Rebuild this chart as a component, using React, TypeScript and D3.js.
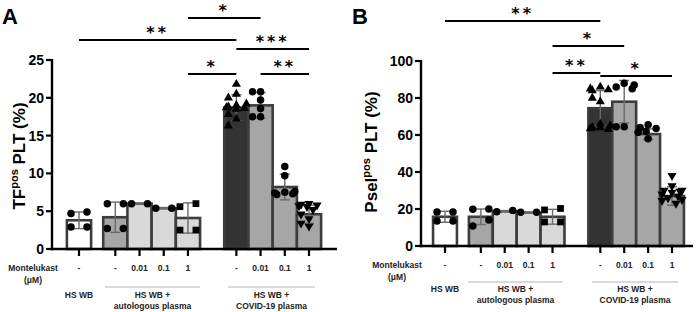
import React from "react";
import * as d3 from "d3";

// ---------- data ----------
const doseLabels = ["-", "-", "0.01", "0.1", "1", "-", "0.01", "0.1", "1"];
const barSlots = [0, 1.5, 2.5, 3.5, 4.5, 6.5, 7.5, 8.5, 9.5];
const markers = ["circle", "circle", "circle", "circle", "square", "triangle", "circle", "circle", "triangleDown"];
const fills = ["#ffffff", "#a6a6a6", "#d9d9d9", "#d9d9d9", "#d9d9d9", "#333333", "#a6a6a6", "#a6a6a6", "#a6a6a6"];

const meansA = [3.8, 4.2, 6.0, 5.4, 4.1, 18.7, 19.0, 8.2, 4.6];
const sdA = [1.1, 2.0, 0.05, 0.05, 2.0, 1.7, 1.7, 1.7, 1.2];
const pointsA = [
  [4.7, 4.9, 2.9, 2.9],
  [6.0, 6.0, 2.7, 2.7],
  [6.0, 6.0],
  [5.4, 5.4],
  [5.6, 6.0, 2.5, 2.5],
  [21.8, 20.5, 20.0, 19.0, 18.8, 18.6, 18.5, 18.7, 17.8, 17.2, 16.3, 19.2],
  [20.8, 20.8, 19.7, 18.6, 17.5, 17.5],
  [10.9, 9.7, 7.5, 7.2, 7.3, 7.4, 7.6],
  [6.0, 5.9, 5.8, 5.7, 5.6, 5.2, 4.6, 4.0, 3.4, 3.0],
];
const ticksA = [0, 5, 10, 15, 20, 25];
const sigA: [number, number, string][] = [
  [4, 6, "*"],
  [0, 5, "**"],
  [5, 8, "***"],
  [4, 5, "*"],
  [6, 8, "**"],
];

const meansB = [15.8, 15.8, 18.8, 18.0, 15.8, 74.5, 78.0, 60.5, 27.0];
const sdB = [3.0, 4.2, 0.3, 0.3, 4.0, 9.5, 11.5, 2.8, 5.0];
const pointsB = [
  [18.4, 18.4, 13.5, 13.5],
  [19.9, 20.0, 10.8, 14.0],
  [18.5, 19.2],
  [18.3, 18.3],
  [19.5, 20.3, 13.0, 13.0],
  [86, 84, 84.5, 85, 78, 80, 66, 64, 63, 64, 65, 63.5],
  [88, 86, 85, 87, 64.5, 64.5],
  [65.5, 64, 63.5, 62, 61.5, 58],
  [38, 32.5, 30, 29.5, 29, 30, 28, 27, 26, 25, 24.5, 23],
];
const ticksB = [0, 20, 40, 60, 80, 100];
const sigB: [number, number, string][] = [
  [0, 5, "**"],
  [4, 6, "*"],
  [4, 5, "**"],
  [5, 8, "*"],
];

// ---------- layout ----------
type PanelCfg = {
  letter: string;
  letterX: number;
  axisX: number;
  axisRight: number;
  y0: number;
  yTop: number;
  yMax: number;
  x0: number;
  x1: number;
  means: number[];
  sd: number[];
  points: number[][];
  ticks: number[];
  sig: [number, number, string][];
  sigY: number[];
  labelMain: string;
  labelX: number;
  labelY: number;
  doseY: number;
  montX: number;
  groupLineY: number;
  groupTextY: number;
  groupLines: [number, number][];
};

const panels: PanelCfg[] = [
  {
    letter: "A", letterX: 2, axisX: 52, axisRight: 337, y0: 249, yTop: 60, yMax: 25,
    x0: 79, x1: 309, means: meansA, sd: sdA, points: pointsA, ticks: ticksA,
    sig: sigA, sigY: [18, 40, 49, 74, 74], labelMain: "TF", labelX: 25, labelY: 156,
    doseY: 271, montX: 33, groupLineY: 287, groupTextY: 298,
    groupLines: [[105, 200], [228, 315]],
  },
  {
    letter: "B", letterX: 352, axisX: 421, axisRight: 693, y0: 246, yTop: 61, yMax: 100,
    x0: 445, x1: 672, means: meansB, sd: sdB, points: pointsB, ticks: ticksB,
    sig: sigB, sigY: [21, 46, 73, 76], labelMain: "Psel", labelX: 377, labelY: 152,
    doseY: 268, montX: 397, groupLineY: 282, groupTextY: 292,
    groupLines: [[468, 563], [592, 678]],
  },
];

// beeswarm-like horizontal placement (layout only)
const swarm = (ys: number[]): number[] => {
  const n = ys.length;
  if (n <= 4) return ys.map((_, i) => (i % 2 === 0 ? -8 : 8));
  const cands = [0, -8, 8, -4, 4, -10, 10, -2, 2, -6, 6];
  const placed: [number, number][] = [];
  return ys.map((yy) => {
    let best = 0;
    let bestScore = Infinity;
    for (const cx of cands) {
      let score = 0;
      for (const [px, py] of placed) {
        const d = Math.hypot(px - cx, py - yy);
        if (d < 7) score += 7 - d;
      }
      if (score < bestScore - 1e-6) {
        bestScore = score;
        best = cx;
      }
    }
    placed.push([best, yy]);
    return best;
  });
};

const symbolPath = (m: string) => {
  if (m === "square") return d3.symbol(d3.symbolSquare, 46)();
  if (m === "triangle" || m === "triangleDown") return d3.symbol(d3.symbolTriangle, 36)();
  return d3.symbol(d3.symbolCircle, 44)();
};

const SANS = "'Liberation Sans', Arial, sans-serif";

function Panel({ c }: { c: PanelCfg }) {
  const y = d3.scaleLinear().domain([0, c.yMax]).range([c.y0, c.yTop]);
  const x = d3.scaleLinear().domain([0, 9.5]).range([c.x0, c.x1]);
  const half = (x(1) - x(0)) / 2;
  const groupCenters = [(c.groupLines[0][0] + c.groupLines[0][1]) / 2, (c.groupLines[1][0] + c.groupLines[1][1]) / 2];
  return (
    <g>
      <text x={c.letterX} y={24} fontFamily={SANS} fontWeight="bold" fontSize={22}>{c.letter}</text>
      {/* bars */}
      {c.means.map((m, i) => (
        <rect key={"b" + i} x={x(barSlots[i]) - half} y={y(m)} width={half * 2} height={c.y0 - y(m)}
          fill={fills[i]} stroke="#3d3d3d" strokeWidth={2.6} />
      ))}
      {/* error bars */}
      {c.means.map((m, i) => {
        const cx = x(barSlots[i]);
        const hi = y(m + c.sd[i]);
        const lo = y(m - c.sd[i]);
        return (
          <g key={"e" + i} stroke="#6a6a6a" strokeWidth={1.4}>
            <line x1={cx} x2={cx} y1={hi} y2={lo} />
            <line x1={cx - 5} x2={cx + 5} y1={hi} y2={hi} />
            <line x1={cx - 5} x2={cx + 5} y1={lo} y2={lo} />
          </g>
        );
      })}
      {/* points */}
      {c.points.map((pts, i) => {
        const ys = pts.map((v) => y(v));
        const offs = swarm(ys);
        return pts.map((v, j) => {
          const px = x(barSlots[i]) + offs[j];
          const rot = markers[i] === "triangleDown" ? " rotate(180)" : "";
          return (
            <path key={"p" + i + "-" + j} d={symbolPath(markers[i]) || ""}
              transform={`translate(${px},${y(v)})${rot}`} fill="#000" />
          );
        });
      })}
      {/* y axis */}
      <line x1={c.axisX} x2={c.axisX} y1={c.yTop - 1} y2={c.y0 + 1.2} stroke="#000" strokeWidth={2.4} />
      {c.ticks.map((t) => (
        <g key={"t" + t}>
          <line x1={c.axisX - 6} x2={c.axisX} y1={y(t)} y2={y(t)} stroke="#000" strokeWidth={2.2} />
          <text x={c.axisX - 8} y={y(t)} dy="0.36em" textAnchor="end" fontFamily={SANS}
            fontWeight="bold" fontSize={14}>{t}</text>
        </g>
      ))}
      {/* x axis */}
      <line x1={c.axisX - 1.2} x2={c.axisRight} y1={c.y0} y2={c.y0} stroke="#000" strokeWidth={2.4} />
      {barSlots.map((s, i) => (
        <line key={"xt" + i} x1={x(s)} x2={x(s)} y1={c.y0} y2={c.y0 + 7} stroke="#000" strokeWidth={2.2} />
      ))}
      {/* y label */}
      <text transform={`translate(${c.labelX},${c.labelY}) rotate(-90)`} textAnchor="middle"
        fontFamily={SANS} fontWeight="bold" fontSize={17}>
        {c.labelMain}
        <tspan fontSize={11} dy={-7}>pos</tspan>
        <tspan dy={7}> PLT (%)</tspan>
      </text>
      {/* significance */}
      {c.sig.map(([a, b, s], k) => {
        const xa = x(barSlots[a]);
        const xb = x(barSlots[b]);
        const ly = c.sigY[k];
        return (
          <g key={"s" + k}>
            <line x1={xa} x2={xb} y1={ly} y2={ly} stroke="#000" strokeWidth={2} />
            <text x={(xa + xb) / 2} y={ly - 2} textAnchor="middle" fontFamily="'DejaVu Sans', sans-serif"
              fontWeight="bold" fontSize={16} letterSpacing={3}>{s}</text>
          </g>
        );
      })}
      {/* bottom labels */}
      <g fontFamily={SANS} fontWeight="bold" fontSize={8.5} fill="#222">
        <text x={c.montX} y={c.doseY} textAnchor="middle">Montelukast</text>
        <text x={c.montX} y={c.doseY + 12} textAnchor="middle">(μM)</text>
        {doseLabels.map((d, i) => (
          <text key={"d" + i} x={x(barSlots[i])} y={c.doseY} textAnchor="middle">{d}</text>
        ))}
        <text x={x(barSlots[0])} y={c.groupTextY} textAnchor="middle">HS WB</text>
        <text x={groupCenters[0]} y={c.groupTextY} textAnchor="middle">HS WB +</text>
        <text x={groupCenters[0]} y={c.groupTextY + 11} textAnchor="middle">autologous plasma</text>
        <text x={groupCenters[1]} y={c.groupTextY} textAnchor="middle">HS WB +</text>
        <text x={groupCenters[1]} y={c.groupTextY + 11} textAnchor="middle">COVID-19 plasma</text>
      </g>
      {c.groupLines.map(([a, b], k) => (
        <line key={"g" + k} x1={a} x2={b} y1={c.groupLineY} y2={c.groupLineY} stroke="#b5b5b5" strokeWidth={1} />
      ))}
    </g>
  );
}

export default function App() {
  return (
    <svg width={699} height={312} viewBox="0 0 699 312"
      style={{ position: "absolute", left: 0, top: 0, background: "#fff" }}>
      <rect width={699} height={312} fill="#fff" />
      {panels.map((p) => (
        <Panel key={p.letter} c={p} />
      ))}
    </svg>
  );
}
